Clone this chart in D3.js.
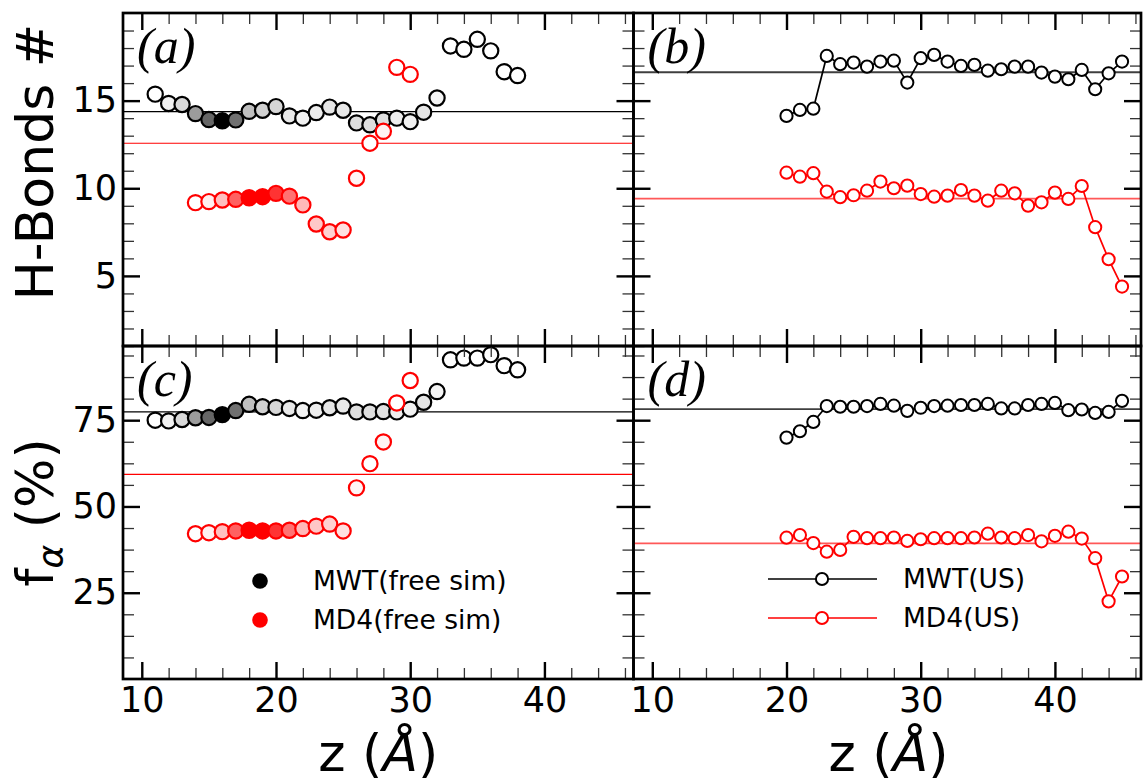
<!DOCTYPE html>
<html>
<head>
<meta charset="utf-8">
<script src="https://cdn.jsdelivr.net/npm/d3@7/dist/d3.min.js"></script>
<style>
  body { margin: 0; background: #fff; }
  svg { display: block; font-family: "DejaVu Sans", sans-serif; }
</style>
</head>
<body>
<div id="chart"></div>
<script>
// ---- values ----

// free simulations (panels a, c)
var zFreeMWT = [11, 12, 13, 14, 15, 16, 17, 18, 19, 20, 21, 22, 23, 24, 25, 26, 27, 28, 29, 30, 31, 32, 33, 34, 35, 36, 37, 38];
var hbFreeMWT = [15.37, 14.84, 14.78, 14.26, 13.92, 13.85, 13.9, 14.39, 14.45, 14.66, 14.13, 14.0, 14.32, 14.63, 14.45, 13.73, 13.62, 13.9, 14.0, 13.8, 14.34, 15.15, 18.12, 17.93, 18.5, 17.84, 16.65, 16.43];
var faFreeMWT = [75.0, 74.8, 75.2, 75.7, 75.8, 76.6, 77.8, 79.6, 78.9, 78.7, 78.4, 77.8, 77.9, 78.6, 79.1, 77.4, 77.4, 77.5, 77.4, 78.2, 80.2, 83.3, 92.5, 93.0, 93.0, 94.0, 90.8, 89.6];
// fill darkness of each MWT circle (0 = white, 1 = black)
var shadeFreeMWT = [0, 0.05, 0.15, 0.39, 0.6, 1, 0.56, 0.25, 0.18, 0.16, 0.09, 0.05, 0.07, 0.1, 0.09, 0.13, 0.13, 0.12, 0.07, 0.05, 0.1, 0.04, 0, 0, 0, 0, 0, 0];

var zFreeMD4 = [14, 15, 16, 17, 18, 19, 20, 21, 22, 23, 24, 25, 26, 27, 28, 29, 30];
var hbFreeMD4 = [9.18, 9.24, 9.33, 9.37, 9.46, 9.52, 9.71, 9.55, 9.05, 7.96, 7.52, 7.62, 10.57, 12.57, 13.25, 16.9, 16.5];
var faFreeMD4 = [42.1, 42.4, 42.7, 42.9, 43.1, 42.9, 42.9, 43.1, 43.6, 44.3, 44.9, 42.9, 55.4, 62.4, 68.7, 80.0, 86.5];
// fill strength of each MD4 circle (0 = white, 1 = red)
var shadeFreeMD4 = [0, 0.06, 0.25, 0.62, 1, 1, 0.8, 0.55, 0.28, 0.22, 0.18, 0.12, 0.04, 0, 0.05, 0, 0];

// umbrella sampling (panels b, d)
var zUS = [20, 21, 22, 23, 24, 25, 26, 27, 28, 29, 30, 31, 32, 33, 34, 35, 36, 37, 38, 39, 40, 41, 42, 43, 44, 45];
var hbUSMWT = [14.13, 14.47, 14.54, 17.55, 17.08, 17.17, 16.94, 17.23, 17.28, 16.03, 17.42, 17.61, 17.23, 16.98, 17.04, 16.71, 16.79, 16.94, 16.94, 16.6, 16.37, 16.22, 16.75, 15.65, 16.56, 17.23];
var hbUSMD4 = [10.89, 10.66, 10.86, 9.81, 9.49, 9.6, 9.86, 10.38, 10.0, 10.15, 9.67, 9.52, 9.58, 9.9, 9.58, 9.29, 9.86, 9.71, 9.01, 9.2, 9.75, 9.39, 10.13, 7.78, 5.95, 4.39];
var faUSMWT = [69.95, 71.8, 74.5, 79.1, 78.9, 78.9, 79.1, 79.7, 79.2, 77.7, 78.6, 79.1, 79.2, 79.4, 79.4, 79.7, 78.4, 78.4, 79.4, 79.7, 80.0, 77.9, 78.1, 77.1, 77.4, 80.6];
var faUSMD4 = [40.96, 41.7, 39.4, 36.9, 37.4, 41.2, 40.8, 40.8, 41.0, 40.0, 40.5, 40.8, 40.8, 40.8, 41.0, 42.1, 41.0, 40.8, 41.7, 39.9, 41.5, 42.7, 40.7, 35.0, 22.5, 29.7];

// horizontal reference levels [MWT, MD4]
var hbMeanFree = [14.37, 12.57];
var hbMeanUS = [16.62, 9.41];
var faMeanFree = [77.4, 59.3];
var faMeanUS = [78.2, 39.3];

// tick values
var xMajor = [10, 20, 30, 40];
var hbMajor = [5, 10, 15];
var faMajor = [25, 50, 75];
var legendFree = ["MWT(free sim)", "MD4(free sim)"];
var legendUS = ["MWT(US)", "MD4(US)"];

// ---- layout ----
var W = 1144, H = 779;
var x0L = 123, x0R = 633.5, xEnd = 1141;
var y0T = 13, y0B = 346, panelH = 333;
var wL = x0R - x0L, wR = xEnd - x0R;

var x = d3.scaleLinear().domain([8.6, 46.6]).range([0, 510]);
var yHB = d3.scaleLinear().domain([1, 20]).range([panelH, 0]);
var yFA = d3.scaleLinear().domain([0, 96.5]).range([panelH, 0]);

var xMinor = d3.range(12, 47, 2).filter(function (v) { return v % 10 !== 0; });
var hbMinor = d3.range(1, 20, 1).filter(function (v) { return v % 5 !== 0; });
var faMinor = d3.range(6.25, 96.5, 6.25).filter(function (v) { return v % 25 !== 0; });

var svg = d3.select("#chart")
  .append("svg")
  .attr("width", W)
  .attr("height", H);

function styleAxis(g, major) {
  g.select(".domain").remove();
  g.selectAll(".tick line")
    .attr("stroke", major ? "#000" : "#333")
    .attr("stroke-width", major ? 2.4 : 1.3);
}

function drawFrame(g, w, y, yMaj, yMin, showY, showX) {
  // y ticks, left and right, pointing in
  g.append("g").call(d3.axisLeft(y).tickValues(yMaj).tickSize(-17).tickPadding(6)
      .tickFormat(showY ? d3.format("d") : ""))
    .call(function (a) { styleAxis(a, true); })
    .attr("font-size", 35).attr("font-family", "DejaVu Sans").attr("fill", "#000");
  g.append("g").call(d3.axisLeft(y).tickValues(yMin).tickSize(-11).tickFormat(""))
    .call(function (a) { styleAxis(a, false); });
  g.append("g").attr("transform", "translate(" + w + ",0)")
    .call(d3.axisRight(y).tickValues(yMaj).tickSize(-17).tickFormat(""))
    .call(function (a) { styleAxis(a, true); });
  g.append("g").attr("transform", "translate(" + w + ",0)")
    .call(d3.axisRight(y).tickValues(yMin).tickSize(-11).tickFormat(""))
    .call(function (a) { styleAxis(a, false); });

  // x ticks, top and bottom, pointing in
  g.append("g").attr("transform", "translate(0," + panelH + ")")
    .call(d3.axisBottom(x).tickValues(xMajor).tickSize(-17).tickPadding(8)
      .tickFormat(showX ? d3.format("d") : ""))
    .call(function (a) { styleAxis(a, true); })
    .attr("font-size", 35).attr("font-family", "DejaVu Sans");
  g.append("g").attr("transform", "translate(0," + panelH + ")")
    .call(d3.axisBottom(x).tickValues(xMinor).tickSize(-11).tickFormat(""))
    .call(function (a) { styleAxis(a, false); });
  g.append("g")
    .call(d3.axisTop(x).tickValues(xMajor).tickSize(-17).tickFormat(""))
    .call(function (a) { styleAxis(a, true); });
  g.append("g")
    .call(d3.axisTop(x).tickValues(xMinor).tickSize(-11).tickFormat(""))
    .call(function (a) { styleAxis(a, false); });

  g.selectAll(".tick text").attr("fill", "#000");

  g.append("rect")
    .attr("width", w).attr("height", panelH)
    .attr("fill", "none").attr("stroke", "#000").attr("stroke-width", 2.7);
}

function hline(g, w, y, v, color, sw, op) {
  g.append("line")
    .attr("x1", 0).attr("x2", w)
    .attr("y1", y(v)).attr("y2", y(v))
    .attr("stroke", color).attr("stroke-width", sw).attr("opacity", op);
}

function panelLabel(g, txt) {
  g.append("text")
    .attr("x", 14).attr("y", 50)
    .attr("font-family", "Liberation Serif")
    .attr("font-style", "italic")
    .attr("font-size", 50)
    .text(txt);
}

// free-sim panel: shaded circles, no connecting line
function freePanel(tx, ty, y, mwt, md4, means, yMaj, yMin, label, showX) {
  var g = svg.append("g").attr("transform", "translate(" + tx + "," + ty + ")");
  hline(g, wL, y, means[0], "#000", 1.1, 1);
  hline(g, wL, y, means[1], "#ff0000", 1.1, 1);

  g.selectAll("circle.mwt")
    .data(zFreeMWT).enter().append("circle")
    .attr("cx", function (d) { return x(d); })
    .attr("cy", function (d, i) { return y(mwt[i]); })
    .attr("r", 7.6)
    .attr("fill", function (d, i) { return d3.interpolateRgb("#ffffff", "#000000")(shadeFreeMWT[i]); })
    .attr("stroke", "#000").attr("stroke-width", 2.2);

  g.selectAll("circle.md4")
    .data(zFreeMD4).enter().append("circle")
    .attr("cx", function (d) { return x(d); })
    .attr("cy", function (d, i) { return y(md4[i]); })
    .attr("r", 7.6)
    .attr("fill", function (d, i) { return d3.interpolateRgb("#ffffff", "#ff0000")(shadeFreeMD4[i]); })
    .attr("stroke", "#ff0000").attr("stroke-width", 2.2);

  panelLabel(g, label);
  drawFrame(g, wL, y, yMaj, yMin, true, showX);
  return g;
}

// umbrella panel: open circles joined by lines
function usPanel(tx, ty, y, mwt, md4, means, yMaj, yMin, label, showX) {
  var g = svg.append("g").attr("transform", "translate(" + tx + "," + ty + ")");
  hline(g, wR, y, means[0], "#000", 1.8, 0.75);
  hline(g, wR, y, means[1], "#ff0000", 1.8, 0.65);

  [[mwt, "#000"], [md4, "#ff0000"]].forEach(function (s) {
    var line = d3.line()
      .x(function (d, i) { return x(zUS[i]); })
      .y(function (d) { return y(d); });
    g.append("path").datum(s[0])
      .attr("d", line)
      .attr("fill", "none").attr("stroke", s[1]).attr("stroke-width", 1.7);
    g.selectAll(null).data(s[0]).enter().append("circle")
      .attr("cx", function (d, i) { return x(zUS[i]); })
      .attr("cy", function (d) { return y(d); })
      .attr("r", 6.1)
      .attr("fill", "#fff").attr("stroke", s[1]).attr("stroke-width", 2);
  });

  panelLabel(g, label);
  drawFrame(g, wR, y, yMaj, yMin, false, showX);
  return g;
}

freePanel(x0L, y0T, yHB, hbFreeMWT, hbFreeMD4, hbMeanFree, hbMajor, hbMinor, "(a)", false);
usPanel(x0R, y0T, yHB, hbUSMWT, hbUSMD4, hbMeanUS, hbMajor, hbMinor, "(b)", false);
freePanel(x0L, y0B, yFA, faFreeMWT, faFreeMD4, faMeanFree, faMajor, faMinor, "(c)", true);
usPanel(x0R, y0B, yFA, faUSMWT, faUSMD4, faMeanUS, faMajor, faMinor, "(d)", true);

// legend, free sims (panel c)
var legC = svg.append("g");
legendFree.forEach(function (t, i) {
  legC.append("circle")
    .attr("cx", 260).attr("cy", 581 + i * 39).attr("r", 7.8)
    .attr("fill", i === 0 ? "#000" : "#ff0000");
  legC.append("text")
    .attr("x", 313).attr("y", 590 + i * 39)
    .attr("font-size", 26.5)
    .text(t);
});

// legend, umbrella sampling (panel d)
var legD = svg.append("g");
legendUS.forEach(function (t, i) {
  var c = i === 0 ? "#000" : "#ff0000";
  var yy = 579 + i * 39;
  legD.append("line")
    .attr("x1", 768).attr("x2", 877).attr("y1", yy).attr("y2", yy)
    .attr("stroke", c).attr("stroke-width", 1.7);
  legD.append("circle")
    .attr("cx", 822).attr("cy", yy).attr("r", 6.1)
    .attr("fill", "#fff").attr("stroke", c).attr("stroke-width", 2);
  legD.append("text")
    .attr("x", 903).attr("y", yy + 9)
    .attr("font-size", 26.5)
    .text(t);
});

// y axis labels
svg.append("text")
  .attr("transform", "translate(53,162) rotate(-90)")
  .attr("text-anchor", "middle")
  .attr("font-size", 52)
  .text("H-Bonds #");

var fl = svg.append("text")
  .attr("transform", "translate(53," + (y0B + panelH / 2) + ") rotate(-90)")
  .attr("text-anchor", "middle")
  .attr("font-size", 52);
fl.append("tspan").text("f");
fl.append("tspan").attr("font-size", 36).attr("dy", 10).attr("font-style", "italic")
  .attr("font-family", "DejaVu Sans").text("α");
fl.append("tspan").attr("dy", -10).text(" (%)");

// x axis labels
[x0L + wL / 2, x0R + 510 / 2].forEach(function (cx) {
  var t = svg.append("text")
    .attr("x", cx).attr("y", 771)
    .attr("text-anchor", "middle")
    .attr("font-size", 52);
  t.append("tspan").text("z (");
  t.append("tspan").attr("font-style", "italic").text("Å");
  t.append("tspan").text(")");
});
</script>
</body>
</html>
